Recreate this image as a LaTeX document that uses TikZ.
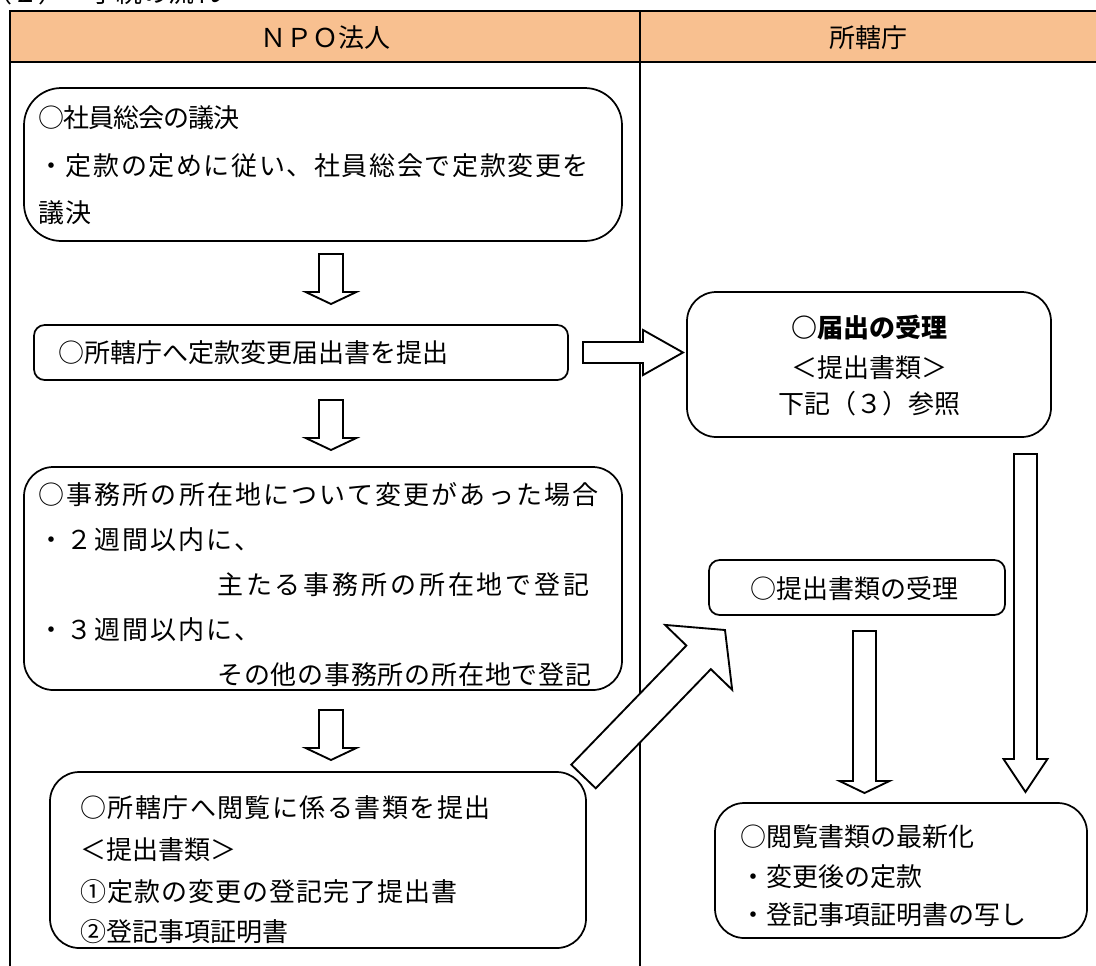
\documentclass[tikz,border=0pt]{standalone}
\usepackage{fontspec}
\setmainfont{Noto Sans CJK JP}
\usetikzlibrary{calc}
\definecolor{hdr}{RGB}{248,192,144}
\newcommand\blockarrow[5]{%
  \coordinate (ba-h) at ($(#2)!#5!(#1)$);
  \draw[blk] ($(#1)!#3!90:(#2)$) -- ($(ba-h)!#3!90:(#2)$) -- ($(ba-h)!#4!90:(#2)$) -- (#2)
    -- ($(ba-h)!#4!-90:(#2)$) -- ($(ba-h)!#3!-90:(#2)$) -- ($(#1)!#3!-90:(#2)$) -- cycle;}
\newcommand\ls[1]{\addfontfeature{LetterSpace=#1}}
\begin{document}
\begin{tikzpicture}[x=0.75pt,y=-0.75pt,
  box/.style={draw,line width=1.3pt,rounded corners=#1},
  blk/.style={draw,line width=1.4pt,fill=white,line join=miter},
  tx/.style={anchor=base west,inner sep=0pt,font=\fontsize{19.5pt}{23pt}\selectfont},
  tc/.style={anchor=base,inner sep=0pt,font=\fontsize{19.5pt}{23pt}\selectfont}]
\useasboundingbox (0,0) rectangle (1096,965);
\clip (0,0) rectangle (1096,965);
% title (cut off at the top)
\node[tx] (title) at (-14,2) {（２）　手続の流れ};
% table frame
\fill[hdr] (10,11) rectangle (1100,62);
\draw[line width=1.8pt] (10,966) -- (10,11) -- (1100,11);
\draw[line width=1.8pt] (10,62) -- (1100,62);
\draw[line width=1.4pt] (640,11) -- (640,966);
\node[tc] (h1) at (325,47) {ＮＰＯ法人};
\node[tc] (h2) at (868,47) {所轄庁};
% boxes
\node[box=28pt,minimum width=448.5pt,minimum height=114.75pt] (A) at (323,164.5) {};
\node[box=8pt,minimum width=400.5pt,minimum height=41.25pt] (B) at (301,352.5) {};
\node[box=22pt,minimum width=273pt,minimum height=108.75pt] (C) at (869,364.5) {};
\node[box=22pt,minimum width=448.5pt,minimum height=167.25pt] (D) at (323,578.5) {};
\node[box=22pt,minimum width=402pt,minimum height=132pt] (E) at (318,860) {};
\node[box=8pt,minimum width=222pt,minimum height=41.25pt] (F) at (857,587.5) {};
\node[box=22pt,minimum width=279pt,minimum height=101.25pt] (G) at (901,870.5) {};
% texts
\node[tx] (a1) at (38,127) {\ls{-4}○社員総会の議決};
\node[tx] (a2) at (38,175) {\ls{6.2}・定款の定めに従い、社員総会で定款変更を};
\node[tx] (a3) at (38,222) {\ls{6.2}議決};
\node[tx] (b1) at (58,362) {○所轄庁へ定款変更届出書を提出};
\node[tc,font=\fontsize{19.5pt}{23pt}\selectfont\bfseries] (c1) at (869,337) {○届出の受理};
\node[tc] (c2) at (869,377) {＜提出書類＞};
\node[tc] (c3) at (869,413) {下記（３）参照};
\node[tx] (d1) at (38,504) {\ls{8.3}○事務所の所在地について変更があった場合};
\node[tx] (d2) at (38,549) {\ls{8}・２週間以内に、};
\node[tx] (d3) at (217,594) {\ls{11}主たる事務所の所在地で登記};
\node[tx] (d4) at (38,639) {\ls{8}・３週間以内に、};
\node[tx] (d5) at (217,684) {\ls{3}その他の事務所の所在地で登記};
\node[tx] (e1) at (80,817) {\ls{5.6}○所轄庁へ閲覧に係る書類を提出};
\node[tx] (e2) at (80,859) {＜提出書類＞};
\node[tx] (e3) at (80,901) {\ls{3.8}①定款の変更の登記完了提出書};
\node[tx] (e4) at (80,941) {②登記事項証明書};
\node[tx] (f1) at (750,598) {○提出書類の受理};
\node[tx] (g1) at (740,846) {○閲覧書類の最新化};
\node[tx] (g2) at (740,886) {・変更後の定款};
\node[tx] (g3) at (740,924) {・登記事項証明書の写し};
% arrow end points
\coordinate (s1) at (331,254); \coordinate (t1) at (331,304);
\coordinate (s2) at (331,400); \coordinate (t2) at (331,450);
\coordinate (s3) at (331,710); \coordinate (t3) at (331,760);
\coordinate (s4) at (583,352.5); \coordinate (t4) at (683,352.5);
\coordinate (s5) at (583.5,776.5); \coordinate (t5) at (725,630);
\coordinate (s6) at (864.5,631); \coordinate (t6) at (864.5,793);
\coordinate (s7) at (1025.5,454); \coordinate (t7) at (1025.5,792);
\blockarrow{s1}{t1}{9pt}{19pt}{9pt}
\blockarrow{s2}{t2}{9pt}{19pt}{9pt}
\blockarrow{s3}{t3}{9pt}{19pt}{9pt}
\blockarrow{s4}{t4}{7.9pt}{16.9pt}{30pt}
\blockarrow{s5}{t5}{12.75pt}{35pt}{28.5pt}
\blockarrow{s6}{t6}{8.6pt}{18.75pt}{9pt}
\blockarrow{s7}{t7}{8.6pt}{16.5pt}{24.75pt}
\end{tikzpicture}
\end{document}
